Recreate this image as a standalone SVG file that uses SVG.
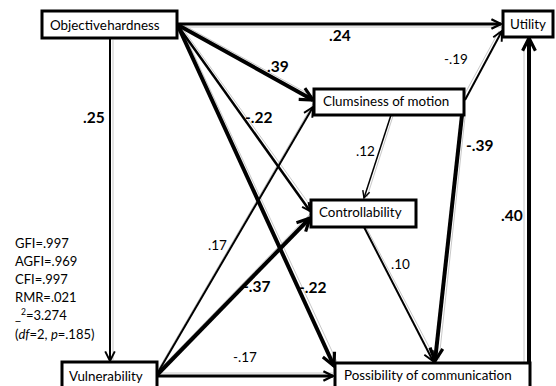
<svg xmlns="http://www.w3.org/2000/svg" width="556" height="386" viewBox="0 0 556 386">
  <style>
    .box { fill: #ffffff; stroke: #000000; stroke-width: 3; }
    .lbl { font-family: Lato, "Liberation Sans", sans-serif; font-size: 13.4px; fill: #000000; }
    .coef { font-family: Lato, "Liberation Sans", sans-serif; font-size: 13.5px; fill: #000000; }
    .coefb { font-family: Lato, "Liberation Sans", sans-serif; font-size: 15.5px; font-weight: bold; fill: #000000; }
    .fit { font-family: Lato, "Liberation Sans", sans-serif; font-size: 13px; fill: #000000; }
    .path { fill: none; stroke: #000000; stroke-linecap: butt; }
    .shadow { fill: none; stroke: #c8c8c8; stroke-width: 1; }
  </style>
  <defs>
    <marker id="arrow" viewBox="0 0 10 10" refX="9" refY="5" markerWidth="4" markerHeight="4" orient="auto" markerUnits="strokeWidth">
      <path d="M1,1 L9,5 L1,9" fill="none" stroke="#000000" stroke-width="2" stroke-linejoin="miter"/>
    </marker>
    <marker id="arrowS" viewBox="0 0 10 10" refX="9" refY="5" markerWidth="6" markerHeight="6" orient="auto" markerUnits="strokeWidth">
      <path d="M1,1 L9,5 L1,9" fill="none" stroke="#000000" stroke-width="1.6" stroke-linejoin="miter"/>
    </marker>
  </defs>

  <!-- connectors -->
  <g id="connectors">
    <!-- faint duplicate strokes -->
    <line class="shadow" x1="178" y1="27" x2="501" y2="27"/>
    <line class="shadow" x1="113" y1="40" x2="113" y2="360"/>
    <line class="shadow" x1="180" y1="23" x2="314" y2="97"/>
    <line class="shadow" x1="181" y1="27" x2="338" y2="364"/>
    <line class="shadow" x1="180" y1="25" x2="312" y2="208"/>
    <line class="shadow" x1="158" y1="370" x2="313" y2="104"/>
    <line class="shadow" x1="158" y1="371" x2="310" y2="214"/>
    <line class="shadow" x1="158" y1="373" x2="333" y2="373"/>
    <line class="shadow" x1="465" y1="117" x2="439" y2="360"/>
    <line class="shadow" x1="462" y1="99" x2="499" y2="31"/>
    <line class="shadow" x1="524" y1="362" x2="524" y2="45"/>
    <line class="shadow" x1="366" y1="227" x2="436" y2="360"/>
    <line class="shadow" x1="393" y1="116" x2="367" y2="197"/>

    <!-- Objective hardness paths -->
    <line class="path" x1="177" y1="24" x2="501" y2="24" stroke-width="3" marker-end="url(#arrow)"/>
    <line class="path" x1="110" y1="39" x2="110" y2="361" stroke-width="2" marker-end="url(#arrowS)"/>
    <line class="path" x1="178" y1="25" x2="313" y2="100" stroke-width="4" marker-end="url(#arrow)"/>
    <line class="path" x1="178" y1="26" x2="310" y2="211" stroke-width="2.5" marker-end="url(#arrow)"/>
    <line class="path" x1="178" y1="26" x2="334" y2="366" stroke-width="4" marker-end="url(#arrow)"/>

    <!-- Vulnerability paths -->
    <line class="path" x1="157" y1="374" x2="313" y2="107" stroke-width="2" marker-end="url(#arrowS)"/>
    <line class="path" x1="157" y1="375" x2="310" y2="218" stroke-width="4" marker-end="url(#arrow)"/>
    <line class="path" x1="157" y1="376" x2="333" y2="376" stroke-width="3" marker-end="url(#arrow)"/>

    <!-- Clumsiness of motion paths -->
    <line class="path" x1="391" y1="115" x2="364" y2="198" stroke-width="1.5" marker-end="url(#arrowS)"/>
    <line class="path" x1="462" y1="115" x2="435" y2="361" stroke-width="4" marker-end="url(#arrow)"/>
    <line class="path" x1="465" y1="100" x2="502" y2="31" stroke-width="2" marker-end="url(#arrowS)"/>

    <!-- Controllability path -->
    <line class="path" x1="364" y1="227" x2="433" y2="361" stroke-width="2" marker-end="url(#arrowS)"/>

    <!-- Possibility of communication path -->
    <line class="path" x1="529" y1="386" x2="529" y2="38" stroke-width="4" marker-end="url(#arrow)"/>
  </g>

  <!-- path coefficients -->
  <g id="coefficients">
    <text class="coefb" x="329" y="41">.24</text>
    <text class="coefb" x="267" y="72">.39</text>
    <text class="coefb" x="245" y="123">-.22</text>
    <text class="coef" x="444" y="64">-.19</text>
    <text class="coefb" x="83" y="123">.25</text>
    <text class="coef" x="356" y="156">.12</text>
    <text class="coefb" x="466" y="151">-.39</text>
    <text class="coefb" x="501" y="221">.40</text>
    <text class="coef" x="208" y="250">.17</text>
    <text class="coefb" x="243" y="292">-.37</text>
    <text class="coefb" x="299" y="293">-.22</text>
    <text class="coef" x="233" y="362">-.17</text>
    <text class="coef" x="391" y="269">.10</text>
  </g>

  <!-- nodes -->
  <g id="objective-hardness">
    <rect class="box" x="42" y="11" width="135" height="27"/>
    <text class="lbl" x="50" y="30" word-spacing="-3">Objective hardness</text>
  </g>
  <g id="utility">
    <rect class="box" x="503" y="11" width="50" height="26"/>
    <text class="lbl" x="510" y="29">Utility</text>
  </g>
  <g id="clumsiness">
    <rect class="box" x="314" y="89" width="150" height="26"/>
    <text class="lbl" x="323" y="106">Clumsiness of motion</text>
  </g>
  <g id="controllability">
    <rect class="box" x="311" y="200" width="105" height="27"/>
    <text class="lbl" x="319" y="217">Controllability</text>
  </g>
  <g id="vulnerability">
    <rect class="box" x="62" y="362" width="95" height="30"/>
    <text class="lbl" x="69" y="381">Vulnerability</text>
  </g>
  <g id="possibility">
    <rect class="box" x="335" y="363" width="195" height="30"/>
    <text class="lbl" x="344" y="380">Possibility of communication</text>
  </g>

  <!-- fit indices -->
  <g id="fit-indices" class="fit">
    <text x="15" y="248">GFI=.997</text>
    <text x="15" y="266">AGFI=.969</text>
    <text x="15" y="284">CFI=.997</text>
    <text x="15" y="302">RMR=.021</text>
    <text x="15" y="320">_<tspan font-size="8.5" dy="-5">2</tspan><tspan dy="5">=3.274</tspan></text>
    <text x="15" y="339">(<tspan font-style="italic">df</tspan>=2, <tspan font-style="italic">p</tspan>=.185)</text>
  </g>
</svg>
